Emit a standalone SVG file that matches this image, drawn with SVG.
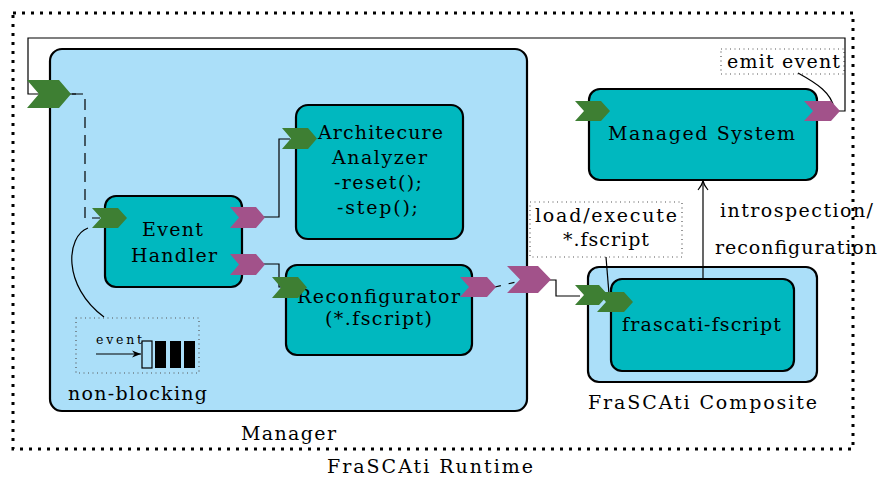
<svg xmlns="http://www.w3.org/2000/svg" width="879" height="479" viewBox="0 0 879 479">
<defs>
<style>
text{font-family:"DejaVu Serif","Liberation Serif",serif;font-size:19px;fill:#000}
.sm{font-size:12.5px}
.outer{fill:#abdff9;stroke:#000;stroke-width:2.2}
.inner{fill:#00b8bf;stroke:#000;stroke-width:2.2}
.pg{fill:#3e7f33}
.pm{fill:#a2528a}
.w{fill:none;stroke:#000;stroke-width:1.2}
.dot{fill:none;stroke:#555;stroke-width:1.2;stroke-dasharray:1 3.5}
</style>
<marker id="arr" viewBox="0 0 12 12" refX="11" refY="6" markerWidth="12" markerHeight="12" markerUnits="userSpaceOnUse" orient="auto">
<path d="M2 1 Q7 5 11 6 Q7 7 2 11" fill="none" stroke="#000" stroke-width="1.2"/>
</marker>
<marker id="arrf" viewBox="0 0 10 10" refX="10" refY="5" markerWidth="9" markerHeight="9" markerUnits="userSpaceOnUse" orient="auto">
<path d="M0 1 L10 5 L0 9 L3 5 Z" fill="#000"/>
</marker>
</defs>
<rect width="879" height="479" fill="#fff"/>

<!-- FraSCAti Runtime frame -->
<g id="runtime">
<rect x="13" y="13" width="840" height="436" fill="none" stroke="#000" stroke-width="3" stroke-dasharray="3 6"/>
<text x="327" y="473" textLength="206" lengthAdjust="spacing">FraSCAti Runtime</text>
</g>

<!-- Manager -->
<g id="manager">
<rect class="outer" x="50" y="49" width="477" height="362" rx="12"/>
<text x="241" y="440" textLength="95" lengthAdjust="spacing">Manager</text>
</g>

<!-- FraSCAti Composite -->
<g id="composite">
<rect class="outer" x="588" y="267" width="229" height="115" rx="11"/>
<text x="588" y="409" textLength="229" lengthAdjust="spacing">FraSCAti Composite</text>
</g>

<g id="event-handler">
<rect class="inner" x="105" y="196" width="137" height="91" rx="11"/>
<text x="142" y="236" textLength="61" lengthAdjust="spacing">Event</text>
<text x="131" y="262" textLength="86" lengthAdjust="spacing">Handler</text>
</g>

<g id="architecture-analyzer">
<rect class="inner" x="296" y="105" width="167" height="134" rx="12"/>
<text x="318" y="139" textLength="125" lengthAdjust="spacing">Architecure</text>
<text x="332" y="164" textLength="95" lengthAdjust="spacing">Analyzer</text>
<text x="334" y="189" textLength="88" lengthAdjust="spacing">-reset();</text>
<text x="337" y="214" textLength="81" lengthAdjust="spacing">-step();</text>
</g>

<g id="reconfigurator">
<rect class="inner" x="286" y="265" width="186" height="90" rx="11"/>
<text x="297" y="303" textLength="163" lengthAdjust="spacing">Reconfigurator</text>
<text x="325" y="325" textLength="107" lengthAdjust="spacing">(*.fscript)</text>
</g>

<g id="managed-system">
<rect class="inner" x="589" y="89" width="228" height="91" rx="11"/>
<text x="608" y="140" textLength="187" lengthAdjust="spacing">Managed System</text>
</g>

<g id="frascati-fscript">
<rect class="inner" x="611" y="279" width="183" height="92" rx="11"/>
<text x="622" y="331" textLength="159" lengthAdjust="spacing">frascati-fscript</text>
</g>

<!-- event queue -->
<g id="event-queue">
<rect class="dot" x="76" y="318" width="123" height="55"/>
<text class="sm" x="96" y="344" textLength="46" lengthAdjust="spacing">event</text>
<line x1="96" y1="354" x2="141" y2="354" stroke="#000" stroke-width="1.2" marker-end="url(#arrf)"/>
<rect x="142" y="341" width="10" height="27" fill="none" stroke="#000" stroke-width="1.2"/>
<rect x="155" y="341" width="11" height="27" fill="#000"/>
<rect x="170" y="341" width="11" height="27" fill="#000"/>
<rect x="184" y="341" width="11" height="27" fill="#000"/>
<text x="68" y="400" textLength="139" lengthAdjust="spacing">non-blocking</text>
</g>

<g id="emit-event">
<rect class="dot" x="721" y="49" width="123" height="25"/>
<text x="727" y="68" textLength="113" lengthAdjust="spacing">emit event</text>
</g>

<g id="load-execute">
<rect class="dot" x="530" y="202" width="152" height="55"/>
<text x="535" y="222" textLength="142" lengthAdjust="spacing">load/execute</text>
<text x="563" y="246" textLength="86" lengthAdjust="spacing">*.fscript</text>
</g>

<g id="introspection-label">
<text x="720" y="217" textLength="153" lengthAdjust="spacing">introspection/</text>
<text x="715" y="254" textLength="162" lengthAdjust="spacing">reconfiguration</text>
</g>

<!-- connectors -->
<g id="connectors">
<path class="w" d="M838 111 H845 V38 H28 V94 H76"/>
<path class="w" d="M72 94 H85 V218 H100" stroke-dasharray="11 7"/>
<path class="w" d="M263 217 H279 V139 H290"/>
<path class="w" d="M263 264 H279 V287 H285"/>
<path class="w" d="M495 287 L520 281" stroke-dasharray="6 8"/>
<path class="w" d="M549 280 H556 V296 H580"/>
<path class="w" d="M703 279 V181" marker-end="url(#arr)"/>
<path class="w" d="M798 73 C818 84 831 93 834 108"/>
<path class="w" d="M606 257 L609 294"/>
<path class="w" d="M88 228 C66 236 62 286 104 317"/>
</g>

<!-- ports -->
<g id="ports">
<polygon class="pg" points="27,80 59,80 71,94 59,108 27,108 39,94"/>
<polygon class="pg" points="92,208 118,208 127,218 118,228 92,228 101,218"/>
<polygon class="pm" points="230,207 256,207 265,217.5 256,228 230,228 239,217.5"/>
<polygon class="pm" points="230,254 256,254 265,264.5 256,275 230,275 239,264.5"/>
<polygon class="pg" points="282,128 308,128 317,138.5 308,149 282,149 291,138.5"/>
<polygon class="pg" points="272,277 298,277 307,287.5 298,298 272,298 281,287.5"/>
<polygon class="pm" points="460,277 487,277 496,287 487,297 460,297 469,287"/>
<polygon class="pm" points="507,266 538,266 551,279.5 538,293 507,293 520,279.5"/>
<polygon class="pg" points="575,285 599,285 608,295 599,305 575,305 584,295"/>
<polygon class="pg" points="597,292 624,292 633,302 624,312 597,312 606,302"/>
<polygon class="pg" points="575,101 601,101 610,111 601,121 575,121 584,111"/>
<polygon class="pm" points="804,101 831,101 840,111 831,121 804,121 813,111"/>
</g>
</svg>
